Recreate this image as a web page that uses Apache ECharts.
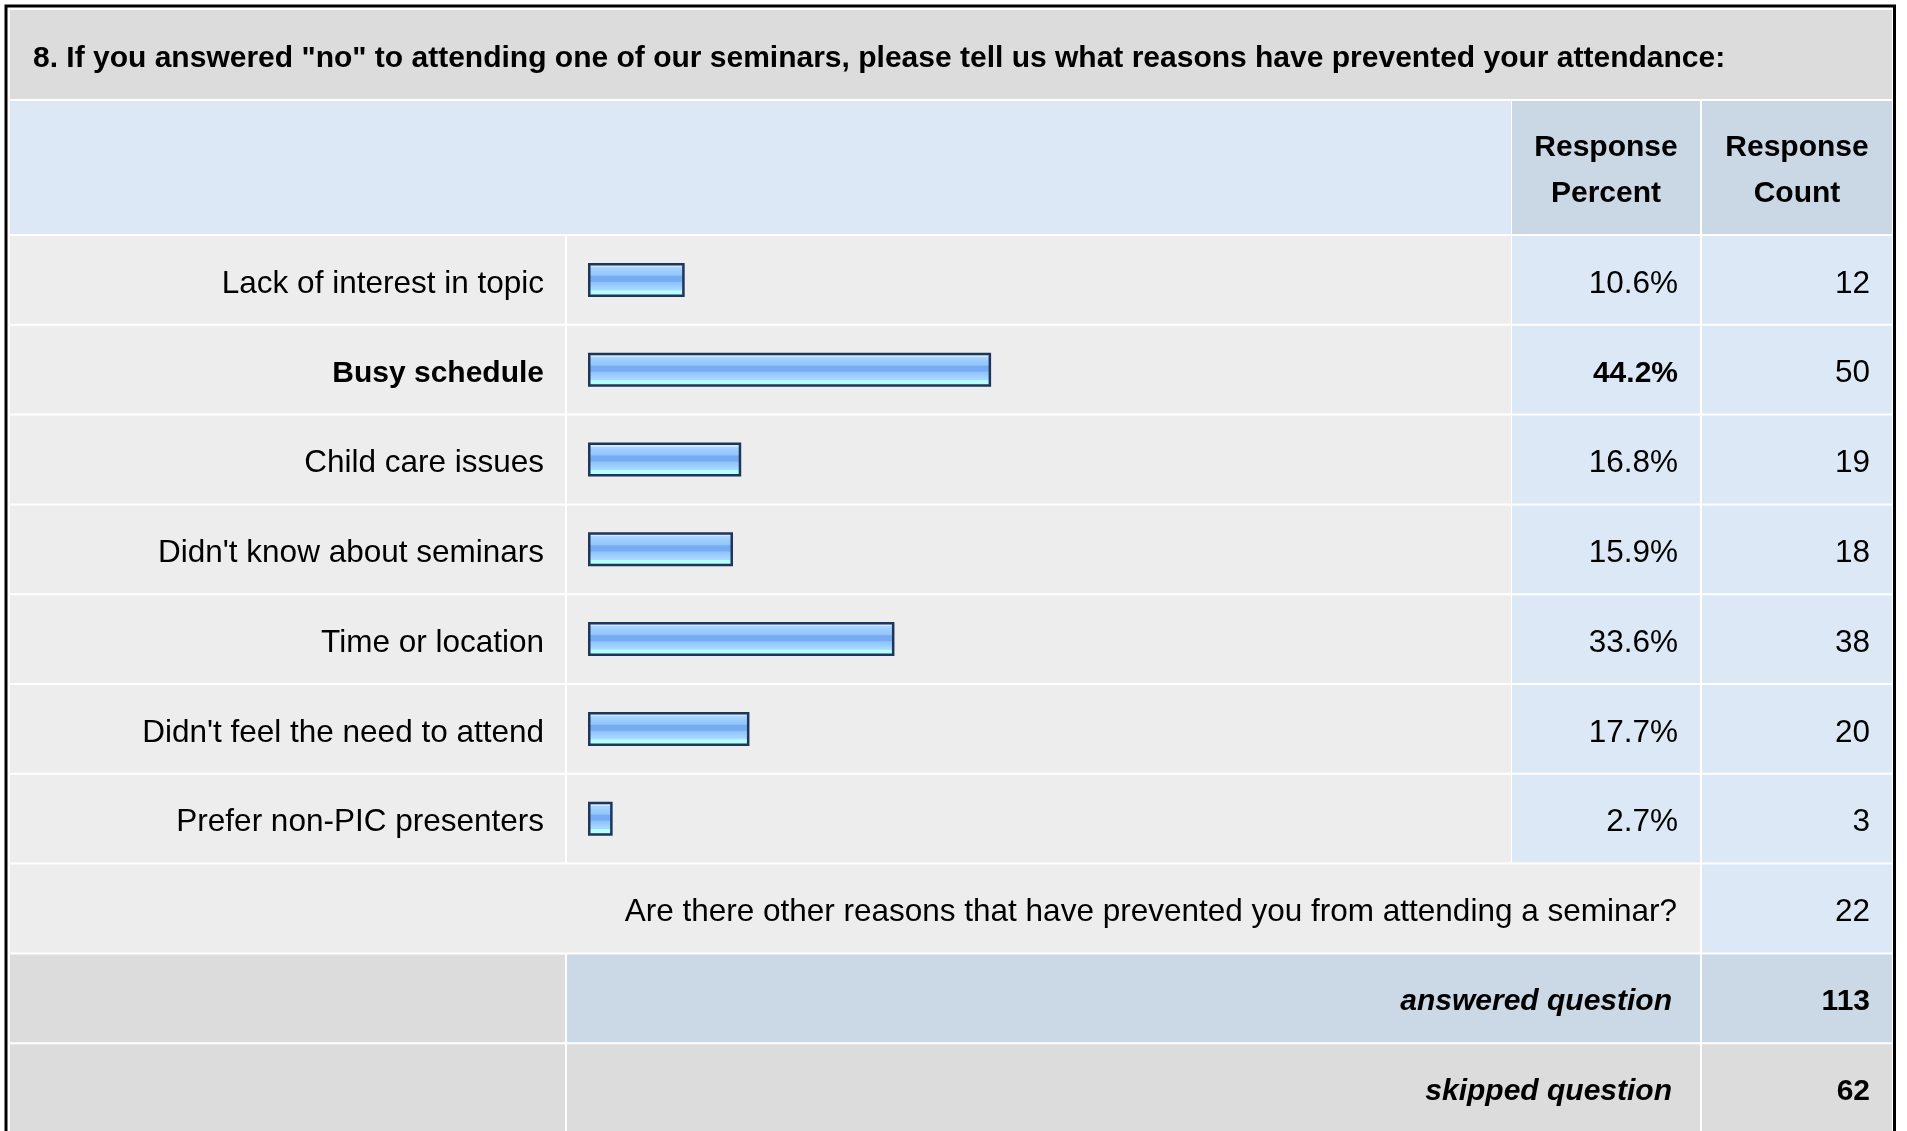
<!DOCTYPE html>
<html>
<head>
<meta charset="utf-8">
<title>Seminar attendance survey</title>
<script src="https://cdn.jsdelivr.net/npm/echarts@6/dist/echarts.min.js"></script>
<style>
  html, body { margin: 0; padding: 0; background: #ffffff; }
  #chart { width: 1907px; height: 1131px; }
</style>
</head>
<body>
<div id="chart"></div>
<script>
// ---- survey data ----
const questionTitle = '8. If you answered "no" to attending one of our seminars, please tell us what reasons have prevented your attendance:';
const headerPercent = ['Response', 'Percent'];
const headerCount = ['Response', 'Count'];
const reasons = [
  'Lack of interest in topic',
  'Busy schedule',
  'Child care issues',
  "Didn't know about seminars",
  'Time or location',
  "Didn't feel the need to attend",
  'Prefer non-PIC presenters'
];
const responsePercent = [10.6, 44.2, 16.8, 15.9, 33.6, 17.7, 2.7];
const responseCount = [12, 50, 19, 18, 38, 20, 3];
const otherQuestion = 'Are there other reasons that have prevented you from attending a seminar?';
const otherCount = 22;
const answeredLabel = 'answered question';
const answeredCount = 113;
const skippedLabel = 'skipped question';
const skippedCount = 62;

// ---- layout ----
const FONT = '"Liberation Sans", Arial, Helvetica, sans-serif';
const REG = 'normal 31.5px ' + FONT;
const BOLD = 'bold 30px ' + FONT;
const COL = {               // table column edges (x)
  labelL: 10, labelR: 565,
  barL: 567, barR: 1511,
  pctL: 1512, pctR: 1700,
  cntL: 1702, cntR: 1892
};
const GRID_TOP = 235;
const ROW = 89.8;
const GRID_H = ROW * reasons.length;
const C = {
  title: '#dcdcdc',
  head: '#dce8f5',
  headCell: '#cad7e5',
  row: '#ededed',
  num: '#dce8f5',
  sum: '#cbd8e6',
  gray: '#dcdcdc'
};
const maxIdx = responsePercent.indexOf(Math.max.apply(null, responsePercent));

const barGradient = new echarts.graphic.LinearGradient(0, 0, 0, 1, [
  { offset: 0.00, color: '#cfe7ff' },
  { offset: 0.12, color: '#cfe7ff' },
  { offset: 0.12, color: '#aed6ff' },
  { offset: 0.24, color: '#9bcdff' },
  { offset: 0.36, color: '#94c6fd' },
  { offset: 0.40, color: '#77acf2' },
  { offset: 0.54, color: '#77acf2' },
  { offset: 0.58, color: '#8fc3fb' },
  { offset: 0.70, color: '#9ed0ff' },
  { offset: 0.80, color: '#abdcff' },
  { offset: 0.82, color: '#b5ffff' },
  { offset: 1.00, color: '#b5ffff' }
]);

function rect(x1, y1, x2, y2, fill) {
  return { type: 'rect', shape: { x: x1, y: y1, width: x2 - x1, height: y2 - y1 }, style: { fill: fill }, silent: true };
}
function text(x, y, str, opts) {
  return {
    type: 'text', x: x, y: y, silent: true,
    style: Object.assign({
      text: str, fill: '#000000', font: REG,
      align: 'right', verticalAlign: 'middle'
    }, opts || {})
  };
}

// rows below the bar rows
const r8 = GRID_TOP + GRID_H;         // other reasons row
const r9 = r8 + ROW;                  // answered
const r10 = r9 + ROW;                 // skipped

const graphics = [
  // title row
  rect(COL.labelL, 10, COL.cntR, 99, C.title),
  text(33, 59, questionTitle, { align: 'left', font: BOLD }),
  // header row
  rect(COL.labelL, 101, COL.barR, GRID_TOP - 1, C.head),
  rect(COL.pctL, 101, COL.pctR, GRID_TOP - 1, C.headCell),
  rect(COL.cntL, 101, COL.cntR, GRID_TOP - 1, C.headCell),
  text((COL.pctL + COL.pctR) / 2, 148, headerPercent[0], { align: 'center', font: BOLD }),
  text((COL.pctL + COL.pctR) / 2, 194, headerPercent[1], { align: 'center', font: BOLD }),
  text((COL.cntL + COL.cntR) / 2, 148, headerCount[0], { align: 'center', font: BOLD }),
  text((COL.cntL + COL.cntR) / 2, 194, headerCount[1], { align: 'center', font: BOLD }),
  // other reasons row
  rect(COL.labelL, r8 + 1, COL.pctR, r8 + ROW - 1, C.row),
  rect(COL.cntL, r8 + 1, COL.cntR, r8 + ROW - 1, C.num),
  text(1677, r8 + ROW / 2 + 4, otherQuestion),
  text(1870, r8 + ROW / 2 + 4, String(otherCount)),
  // answered row
  rect(COL.labelL, r9 + 1, COL.labelR, r9 + ROW - 1, C.gray),
  rect(COL.barL, r9 + 1, COL.pctR, r9 + ROW - 1, C.sum),
  rect(COL.cntL, r9 + 1, COL.cntR, r9 + ROW - 1, C.sum),
  text(1672, r9 + ROW / 2 + 3, answeredLabel, { font: 'italic ' + BOLD }),
  text(1870, r9 + ROW / 2 + 3, String(answeredCount), { font: BOLD }),
  // skipped row
  rect(COL.labelL, r10 + 1, COL.labelR, 1131, C.gray),
  rect(COL.barL, r10 + 1, COL.pctR, 1131, C.gray),
  rect(COL.cntL, r10 + 1, COL.cntR, 1131, C.gray),
  text(1672, r10 + ROW / 2 + 4, skippedLabel, { font: 'italic ' + BOLD }),
  text(1870, r10 + ROW / 2 + 4, String(skippedCount), { font: BOLD }),
  // outer frame
  {
    type: 'rect', silent: true, z: 100,
    shape: { x: 6, y: 6, width: 1888.5, height: 1200 },
    style: { fill: 'none', stroke: '#000000', lineWidth: 3 }
  }
];

const chart = echarts.init(document.getElementById('chart'), null, { renderer: 'canvas' });

chart.setOption({
  animation: false,
  backgroundColor: '#ffffff',
  grid: { left: 588, top: GRID_TOP, width: 912, height: GRID_H, containLabel: false },
  xAxis: {
    type: 'value', min: 0, max: 100,
    show: false
  },
  yAxis: {
    type: 'category',
    inverse: true,
    data: reasons,
    axisLine: { show: false },
    axisTick: { show: false },
    splitLine: { show: false },
    z: 5,
    axisLabel: {
      margin: 44,
      fontSize: 31.5,
      fontFamily: FONT,
      color: '#000000',
      padding: [8, 0, 0, 0],
      formatter: function (v, i) { return i === maxIdx ? '{b|' + v + '}' : v; },
      rich: { b: { fontWeight: 'bold', fontSize: 30, fontFamily: FONT, color: '#000000' } }
    }
  },
  graphic: { elements: graphics },
  series: [
    {
      // table cells and numeric columns of each reason row
      type: 'custom',
      z: 1,
      silent: true,
      encode: { x: 0, y: 1 },
      data: reasons.map(function (r, i) { return [responsePercent[i], i, responseCount[i]]; }),
      renderItem: function (params, api) {
        const idx = api.value(1);
        const center = api.coord([0, idx])[1];
        const band = api.size([0, 1])[1];
        const top = center - band / 2 + 1;
        const bottom = center + band / 2 - 1;
        const bold = idx === maxIdx;
        return {
          type: 'group',
          children: [
            rect(COL.labelL, top, COL.labelR, bottom, C.row),
            rect(COL.barL, top, COL.barR, bottom, C.row),
            rect(COL.pctL, top, COL.pctR, bottom, C.num),
            rect(COL.cntL, top, COL.cntR, bottom, C.num),
            text(1678, center + 4, api.value(0).toFixed(1) + '%', { font: bold ? BOLD : REG }),
            text(1870, center + 4, String(api.value(2)))
          ]
        };
      }
    },
    {
      type: 'bar',
      z: 3,
      barWidth: 34,
      data: responsePercent,
      itemStyle: {
        color: barGradient,
        borderColor: '#1d3659',
        borderWidth: 2.5
      }
    }
  ]
});
</script>
</body>
</html>
